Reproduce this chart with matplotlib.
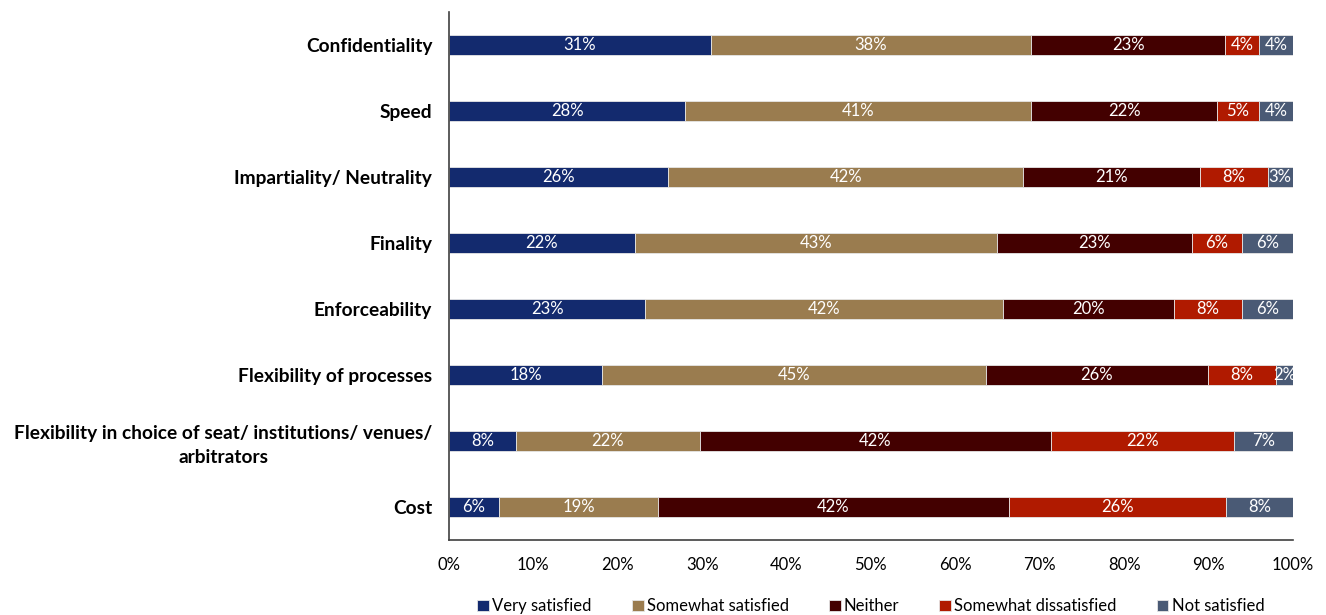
import numpy as np
import matplotlib.pyplot as plt

plt.rcParams['font.family'] = ['Lato', 'DejaVu Sans']

# Survey categories, top to bottom
categories = [
    'Confidentiality',
    'Speed',
    'Impartiality/ Neutrality',
    'Finality',
    'Enforceability',
    'Flexibility of processes',
    'Flexibility in choice of seat/ institutions/ venues/\narbitrators',
    'Cost',
]

series_names = ['Very satisfied', 'Somewhat satisfied', 'Neither',
                'Somewhat dissatisfied', 'Not satisfied']

very_satisfied = [31, 28, 26, 22, 23, 18, 8, 6]
somewhat_satisfied = [38, 41, 42, 43, 42, 45, 22, 19]
neither = [23, 22, 21, 23, 20, 26, 42, 42]
somewhat_dissatisfied = [4, 5, 8, 6, 8, 8, 22, 26]
not_satisfied = [4, 4, 3, 6, 6, 2, 7, 8]

colors = ['#132a6e', '#9a7c4f', '#430000', '#b01a00', '#4a5a75']

values = np.array([very_satisfied, somewhat_satisfied, neither,
                   somewhat_dissatisfied, not_satisfied], dtype=float)
# stacked to 100%
shares = values / values.sum(axis=0) * 100

fig = plt.figure(figsize=(13.26, 6.15), dpi=100)
ax = fig.add_axes([0.3386, 0.122, 0.6364, 0.8585])

y = np.arange(len(categories))
left = np.zeros(len(categories))
for i, name in enumerate(series_names):
    bars = ax.barh(y, shares[i], left=left, height=0.3, color=colors[i],
                   edgecolor='#e6e6e6', linewidth=0.6, label=name)
    for j, b in enumerate(bars):
        cx = left[j] + shares[i][j] / 2
        ax.text(cx, y[j], f'{int(values[i][j])}%', ha='center', va='center',
                color='white', fontsize=12)
    left += shares[i]

ax.set_ylim(len(categories) - 0.5, -0.5)
ax.set_xlim(0, 100)
ax.set_xticks(np.arange(0, 101, 10))
ax.set_xticklabels([f'{t}%' for t in range(0, 101, 10)], fontsize=12)
ax.set_yticks(y)
ax.set_yticklabels(categories, fontsize=13.8, fontweight='bold',
                   ha='right', multialignment='center', linespacing=1.5)
ax.tick_params(axis='y', length=0, pad=12)
ax.tick_params(axis='x', length=0, pad=12)

for s in ['top', 'right']:
    ax.spines[s].set_visible(False)
for s in ['left', 'bottom']:
    ax.spines[s].set_color('#404040')
    ax.spines[s].set_linewidth(1.2)

ax.legend(loc='upper center', bbox_to_anchor=(0.5, -0.082), ncol=5,
          frameon=False, fontsize=12, handlelength=0.7, handleheight=0.7,
          handletextpad=0.2, columnspacing=2.4)

fig.savefig('out.png', dpi=100)
